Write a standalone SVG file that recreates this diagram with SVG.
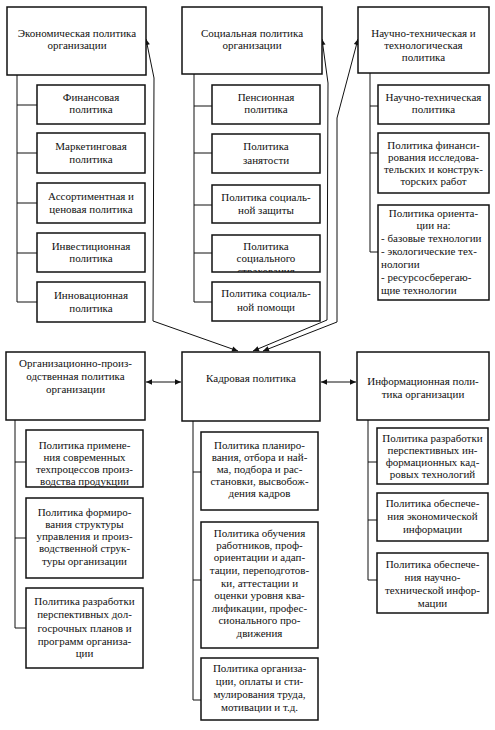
<svg xmlns="http://www.w3.org/2000/svg" width="495" height="730" viewBox="0 0 495 730">
<style>
.box{fill:#fff;stroke:#111;stroke-width:1.5}
.t{font-family:"Liberation Serif","Times New Roman",serif;font-size:11px;text-anchor:middle;fill:#111}
.l{text-anchor:start}
.c{fill:none;stroke:#111;stroke-width:1}
.a{fill:none;stroke:#111;stroke-width:1;marker-start:url(#ah);marker-end:url(#ah)}
</style>
<defs>
<marker id="ah" viewBox="0 0 10 10" refX="10" refY="5" markerWidth="8" markerHeight="6" markerUnits="userSpaceOnUse" orient="auto-start-reverse"><path d="M0,0.5 L10,5 L0,9.5 z" fill="#111"/></marker>
<clipPath id="cp"><rect x="212" y="235" width="108" height="37"/></clipPath>
</defs>
<rect width="495" height="730" fill="#fff"/>

<g id="connectors">
<path class="c" d="M17,75 V302 M17,105 H37 M17,153 H37 M17,203 H37 M17,253 H37 M17,302 H37"/>
<path class="c" d="M194,74 V302 M194,106 H212 M194,153 H212 M194,205 H212 M194,253 H212 M194,302 H212"/>
<path class="c" d="M370,73 V252 M370,106 H378 M370,153 H378 M370,252 H378"/>
<path class="c" d="M15,420 V628 M15,462 H26 M15,538 H26 M15,628 H26"/>
<path class="c" d="M193,421 V700 M193,472 H201 M193,580 H201 M193,700 H201"/>
<path class="c" d="M368,420 V580 M368,462 H377 M368,520 H377 M368,580 H377"/>
<path class="a" d="M146,39 L154,78 L153,321 L238,351"/>
<path class="a" d="M322,39 L328,83 L327,320 L253,351"/>
<path class="a" d="M358,39 L337,118 L337,322 L263,351"/>
<path class="a" d="M146,382 H181"/>
<path class="a" d="M321,382 H356"/>
</g>

<g id="econ"><rect class="box" x="7" y="7" width="139" height="68"/>
<text class="t" x="77" y="37">Экономическая политика</text><text class="t" x="77" y="49">организации</text></g>
<g id="fin"><rect class="box" x="37" y="85" width="108" height="39"/>
<text class="t" x="91" y="101">Финансовая</text><text class="t" x="91" y="113">политика</text></g>
<g id="mark"><rect class="box" x="37" y="133" width="108" height="40"/>
<text class="t" x="91" y="150">Маркетинговая</text><text class="t" x="91" y="163">политика</text></g>
<g id="assort"><rect class="box" x="37" y="183" width="108" height="40"/>
<text class="t" x="91" y="200">Ассортиментная и</text><text class="t" x="91" y="213">ценовая политика</text></g>
<g id="invest"><rect class="box" x="37" y="233" width="108" height="39"/>
<text class="t" x="91" y="250">Инвестиционная</text><text class="t" x="91" y="262">политика</text></g>
<g id="innov"><rect class="box" x="37" y="282" width="108" height="40"/>
<text class="t" x="91" y="299">Инновационная</text><text class="t" x="91" y="312">политика</text></g>

<g id="soc"><rect class="box" x="182" y="7" width="140" height="67"/>
<text class="t" x="252" y="37">Социальная политика</text><text class="t" x="252" y="49">организации</text></g>
<g id="pens"><rect class="box" x="212" y="85" width="108" height="39"/>
<text class="t" x="266" y="101">Пенсионная</text><text class="t" x="266" y="113">политика</text></g>
<g id="zan"><rect class="box" x="212" y="134" width="108" height="39"/>
<text class="t" x="266" y="150">Политика</text><text class="t" x="266" y="164">занятости</text></g>
<g id="zash"><rect class="box" x="212" y="185" width="108" height="38"/>
<text class="t" x="266" y="201">Политика социаль-</text><text class="t" x="266" y="214">ной защиты</text></g>
<g id="strah"><rect class="box" x="212" y="235" width="108" height="37"/>
<text class="t" x="266" y="250">Политика</text><text class="t" x="266" y="262">социального</text>
<text class="t" x="266" y="275" clip-path="url(#cp)">страхования</text></g>
<g id="pom"><rect class="box" x="212" y="282" width="108" height="39"/>
<text class="t" x="266" y="297">Политика социаль-</text><text class="t" x="266" y="311">ной помощи</text></g>

<g id="nauch"><rect class="box" x="358" y="7" width="131" height="66"/>
<text class="t" x="423.5" y="37">Научно-техническая и</text><text class="t" x="423.5" y="49">технологическая</text><text class="t" x="423.5" y="61">политика</text></g>
<g id="nt"><rect class="box" x="378" y="85" width="111" height="39"/>
<text class="t" x="433.5" y="101">Научно-техническая</text><text class="t" x="433.5" y="113">политика</text></g>
<g id="finis"><rect class="box" x="378" y="133" width="111" height="60"/>
<text class="t" x="433.5" y="149">Политика финанси-</text><text class="t" x="433.5" y="161">рования исследова-</text><text class="t" x="433.5" y="173">тельских и конструк-</text><text class="t" x="433.5" y="185">торских работ</text></g>
<g id="orient"><rect class="box" x="378" y="205" width="111" height="95"/>
<text class="t" x="433.5" y="217">Политика ориента-</text><text class="t" x="433.5" y="229">ции на:</text>
<text class="t l" x="381" y="242">- базовые технологии</text><text class="t l" x="381" y="255">- экологические тех-</text><text class="t l" x="381" y="268">нологии</text><text class="t l" x="381" y="281">- ресурсосберегаю-</text><text class="t l" x="381" y="294">щие технологии</text></g>

<g id="org"><rect class="box" x="6" y="352" width="139" height="68"/>
<text class="t" x="75.5" y="367">Организационно-произ-</text><text class="t" x="75.5" y="380">одственная политика</text><text class="t" x="75.5" y="393">организации</text></g>
<g id="prim"><rect class="box" x="26" y="430" width="117" height="57"/>
<text class="t" x="84.5" y="449">Политика примене-</text><text class="t" x="84.5" y="461">ния современных</text><text class="t" x="84.5" y="473">техпроцессов произ-</text><text class="t" x="84.5" y="485">водства продукции</text></g>
<g id="form"><rect class="box" x="26" y="498" width="117" height="80"/>
<text class="t" x="84.5" y="516">Политика формиро-</text><text class="t" x="84.5" y="528">вания структуры</text><text class="t" x="84.5" y="540">управления и произ-</text><text class="t" x="84.5" y="552">водственной струк-</text><text class="t" x="84.5" y="565">туры организации</text></g>
<g id="razr"><rect class="box" x="26" y="588" width="117" height="80"/>
<text class="t" x="84.5" y="605">Политика разработки</text><text class="t" x="84.5" y="618">перспективных дол-</text><text class="t" x="84.5" y="632">госрочных планов и</text><text class="t" x="84.5" y="645">программ организа-</text><text class="t" x="84.5" y="657">ции</text></g>

<g id="kadr"><rect class="box" x="182" y="352" width="138" height="69"/>
<text class="t" x="251" y="382">Кадровая политика</text></g>
<g id="plan"><rect class="box" x="201" y="432" width="117" height="78"/>
<text class="t" x="259.5" y="449">Политика планиро-</text><text class="t" x="259.5" y="461">вания, отбора и най-</text><text class="t" x="259.5" y="473">ма, подбора и рас-</text><text class="t" x="259.5" y="485">становки, высвобож-</text><text class="t" x="259.5" y="497">дения кадров</text></g>
<g id="obuch"><rect class="box" x="201" y="522" width="117" height="126"/>
<text class="t" x="259.5" y="537">Политика обучения</text><text class="t" x="259.5" y="549">работников, проф-</text><text class="t" x="259.5" y="561">ориентации и адап-</text><text class="t" x="259.5" y="574">тации, переподготов-</text><text class="t" x="259.5" y="587">ки, аттестации и</text><text class="t" x="259.5" y="599">оценки уровня ква-</text><text class="t" x="259.5" y="612">лификации, профес-</text><text class="t" x="259.5" y="624">сионального про-</text><text class="t" x="259.5" y="637">движения</text></g>
<g id="opl"><rect class="box" x="201" y="658" width="117" height="62"/>
<text class="t" x="259.5" y="672">Политика организа-</text><text class="t" x="259.5" y="685">ции, оплаты и сти-</text><text class="t" x="259.5" y="698">мулирования труда,</text><text class="t" x="259.5" y="711">мотивации и т.д.</text></g>

<g id="inf"><rect class="box" x="357" y="352" width="132" height="68"/>
<text class="t" x="423" y="385">Информационная поли-</text><text class="t" x="423" y="398">тика организации</text></g>
<g id="infr"><rect class="box" x="377" y="428" width="111" height="56"/>
<text class="t" x="432.5" y="442">Политика разработки</text><text class="t" x="432.5" y="454">перспективных ин-</text><text class="t" x="432.5" y="466">формационных кад-</text><text class="t" x="432.5" y="478">ровых технологий</text></g>
<g id="econinf"><rect class="box" x="377" y="493" width="111" height="48"/>
<text class="t" x="432.5" y="507">Политика обеспече-</text><text class="t" x="432.5" y="520">ния экономической</text><text class="t" x="432.5" y="533">информации</text></g>
<g id="ntinf"><rect class="box" x="377" y="553" width="111" height="60"/>
<text class="t" x="432.5" y="568">Политика обеспече-</text><text class="t" x="432.5" y="581">ния научно-</text><text class="t" x="432.5" y="594">технической инфор-</text><text class="t" x="432.5" y="607">мации</text></g>
</svg>
